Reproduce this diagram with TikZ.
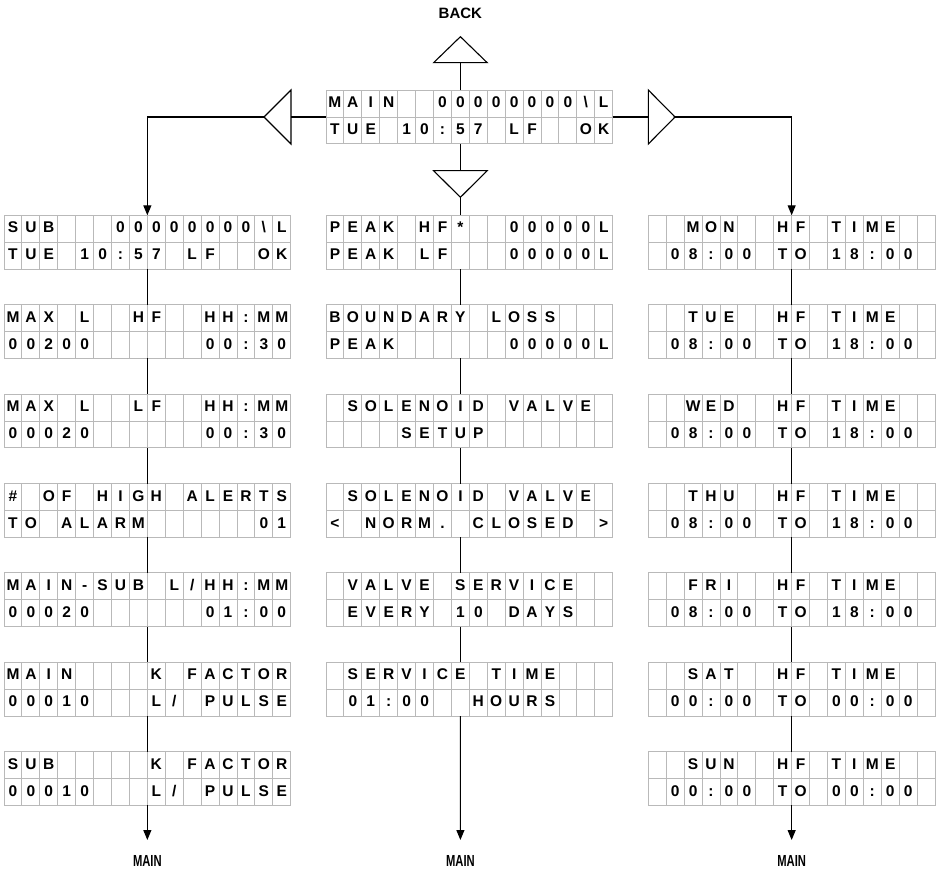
\documentclass[tikz,border=0pt]{standalone}
\usepackage{fontspec}
\setmainfont{Liberation Sans}
\newfontfamily\lcdfont{Liberation Sans Bold}
\usepackage{graphicx}
\usepackage{tikz}
\usetikzlibrary{arrows.meta}
\definecolor{lcdgray}{RGB}{185,185,185}

% one character cell per token, ~ is an empty cell
\newcount\lcdk
\def\cellw{17.92pt}
\def\rowh{26.85pt}
\def\lcdstop{\lcdstop}
\def\lcdscan#1{%
  \ifx\lcdstop#1\else
    \ifx~#1\else
      \node[lcdchar] (\lcdname-\lcdrow-\the\lcdk) at ([shift={({(\the\lcdk+0.5)*\cellw},{-(\lcdrow+0.5)*\rowh})}]\lcdname.north west) {#1};%
    \fi
    \global\advance\lcdk by 1
    \expandafter\lcdscan
  \fi}
\newcommand\lcdline[3]{\def\lcdname{#1}\def\lcdrow{#2}\global\lcdk=0 \lcdscan#3\lcdstop}
\newcommand\lcd[4]{%
  \node[lcd] (#1) at (#2) {};
  \foreach \k in {1,...,15}
    \draw[lcdgrid] ([xshift=\k*\cellw]#1.north west) -- ([xshift=\k*\cellw]#1.south west);
  \draw[lcdgrid] (#1.west) -- (#1.east);
  \lcdline{#1}{0}{#3}\lcdline{#1}{1}{#4}}

\begin{document}
\begin{tikzpicture}[x=1pt,y=-1pt,
    lcd/.style={draw=lcdgray,line width=0.9pt,minimum width=286.7pt,minimum height=53.7pt,inner sep=0pt,outer sep=0pt},
    lcdgrid/.style={lcdgray,line width=0.9pt},
    lcdchar/.style={font=\lcdfont\fontsize{15.5}{15.5}\selectfont,inner sep=0pt,text height=11.1pt,text depth=2.6pt},
    link/.style={line width=1.1pt},
    flow/.style={link,-{Triangle[length=10pt,width=8pt]}},
    navtext/.style={font=\lcdfont\fontsize{15}{15}\selectfont,inner sep=0pt}]
  \useasboundingbox (0,0) rectangle (936,869);
  % main screen
  \lcd{main}{469.3,117}{MAIN~~00000000\textbackslash L}{TUE~10:57~LF~~OK}
  % left column
  \lcd{L1}{147.35,242.15}{SUB~~~00000000\textbackslash L}{TUE~10:57~LF~~OK}
  \lcd{L2}{147.35,331.55}{MAX~L~~HF~~HH:MM}{00200~~~~~~00:30}
  \lcd{L3}{147.35,420.95}{MAX~L~~LF~~HH:MM}{00020~~~~~~00:30}
  \lcd{L4}{147.35,510.35}{\#~OF~HIGH~ALERTS}{TO~ALARM~~~~~~01}
  \lcd{L5}{147.35,599.75}{MAIN-SUB~L/HH:MM}{00020~~~~~~01:00}
  \lcd{L6}{147.35,689.15}{MAIN~~~~K~FACTOR}{00010~~~L/~PULSE}
  \lcd{L7}{147.35,778.55}{SUB~~~~~K~FACTOR}{00010~~~L/~PULSE}
  % middle column
  \lcd{M1}{469.35,242.15}{PEAK~HF*~~00000L}{PEAK~LF~~~00000L}
  \lcd{M2}{469.35,331.55}{BOUNDARY~LOSS~~~}{PEAK~~~~~~00000L}
  \lcd{M3}{469.35,420.95}{~SOLENOID~VALVE~}{~~~~SETUP~~~~~~~}
  \lcd{M4}{469.35,510.35}{~SOLENOID~VALVE~}{<~NORM.~CLOSED~>}
  \lcd{M5}{469.35,599.75}{~VALVE~SERVICE~~}{~EVERY~10~DAYS~~}
  \lcd{M6}{469.35,689.15}{~SERVICE~TIME~~~}{~01:00~~HOURS~~~}
  % right column
  \lcd{R1}{791.65,242.15}{~~MON~~HF~TIME~~}{~08:00~TO~18:00~}
  \lcd{R2}{791.65,331.55}{~~TUE~~HF~TIME~~}{~08:00~TO~18:00~}
  \lcd{R3}{791.65,420.95}{~~WED~~HF~TIME~~}{~08:00~TO~18:00~}
  \lcd{R4}{791.65,510.35}{~~THU~~HF~TIME~~}{~08:00~TO~18:00~}
  \lcd{R5}{791.65,599.75}{~~FRI~~HF~TIME~~}{~08:00~TO~18:00~}
  \lcd{R6}{791.65,689.15}{~~SAT~~HF~TIME~~}{~00:00~TO~00:00~}
  \lcd{R7}{791.65,778.55}{~~SUN~~HF~TIME~~}{~00:00~TO~00:00~}
  % keys
  \coordinate (upapex) at (460.4,36.7);
  \coordinate (upbase) at (460.4,62.7);
  \coordinate (dnbase) at (460.4,170.7);
  \coordinate (dnapex) at (460.4,197.3);
  \coordinate (ltapex) at (264,117);
  \coordinate (ltbase) at (291,117);
  \coordinate (rtbase) at (648.3,117);
  \coordinate (rtapex) at (675,117);
  \draw[link] (upapex) -- ++(-26.8,26) -- ++(53.6,0) -- cycle;
  \draw[link] (dnapex) -- ++(-26.8,-26.6) -- ++(53.6,0) -- cycle;
  \draw[link] (ltapex) -- ++(27,-27) -- ++(0,54) -- cycle;
  \draw[link] (rtapex) -- ++(-26.7,-27) -- ++(0,54) -- cycle;
  \draw[link] (main.north -| upbase) -- (upbase);
  \draw[link] (main.south -| dnbase) -- (dnbase);
  \draw[link] (main.west) -- (ltbase);
  \draw[link] (main.east) -- (rtbase);
  \draw[link] (dnapex) -- (dnapex |- M1.north);
  \draw[flow] (ltapex) -| (L1.north);
  \draw[flow] (rtapex) -| (R1.north);
  % column links
  \foreach \a/\b in {L1/L2,L2/L3,L3/L4,L4/L5,L5/L6,L6/L7,R1/R2,R2/R3,R3/R4,R4/R5,R5/R6,R6/R7}
    \draw[link] (\a) -- (\b);
  \foreach \a/\b in {M1/M2,M2/M3,M3/M4,M4/M5,M5/M6}
    \draw[link] ([xshift=-8.96pt]\a.south) -- ([xshift=-8.96pt]\b.north);
  % exits
  \coordinate (endL) at (147.35,840);
  \coordinate (endM) at (460.4,840);
  \coordinate (endR) at (791.65,840);
  \draw[flow] (L7) -- (endL);
  \draw[flow] ([xshift=-8.96pt]M6.south) -- (endM);
  \draw[flow] (R7) -- (endR);
  \node[navtext] (back) at (460.4,13.7) {BACK};
  \node[navtext,font=\lcdfont\fontsize{16}{16}\selectfont] (mainL) at (147.35,861) {\scalebox{0.7}[1]{MAIN}};
  \node[navtext,font=\lcdfont\fontsize{16}{16}\selectfont] (mainM) at (460.4,861) {\scalebox{0.7}[1]{MAIN}};
  \node[navtext,font=\lcdfont\fontsize{16}{16}\selectfont] (mainR) at (791.65,861) {\scalebox{0.7}[1]{MAIN}};
\end{tikzpicture}
\end{document}
